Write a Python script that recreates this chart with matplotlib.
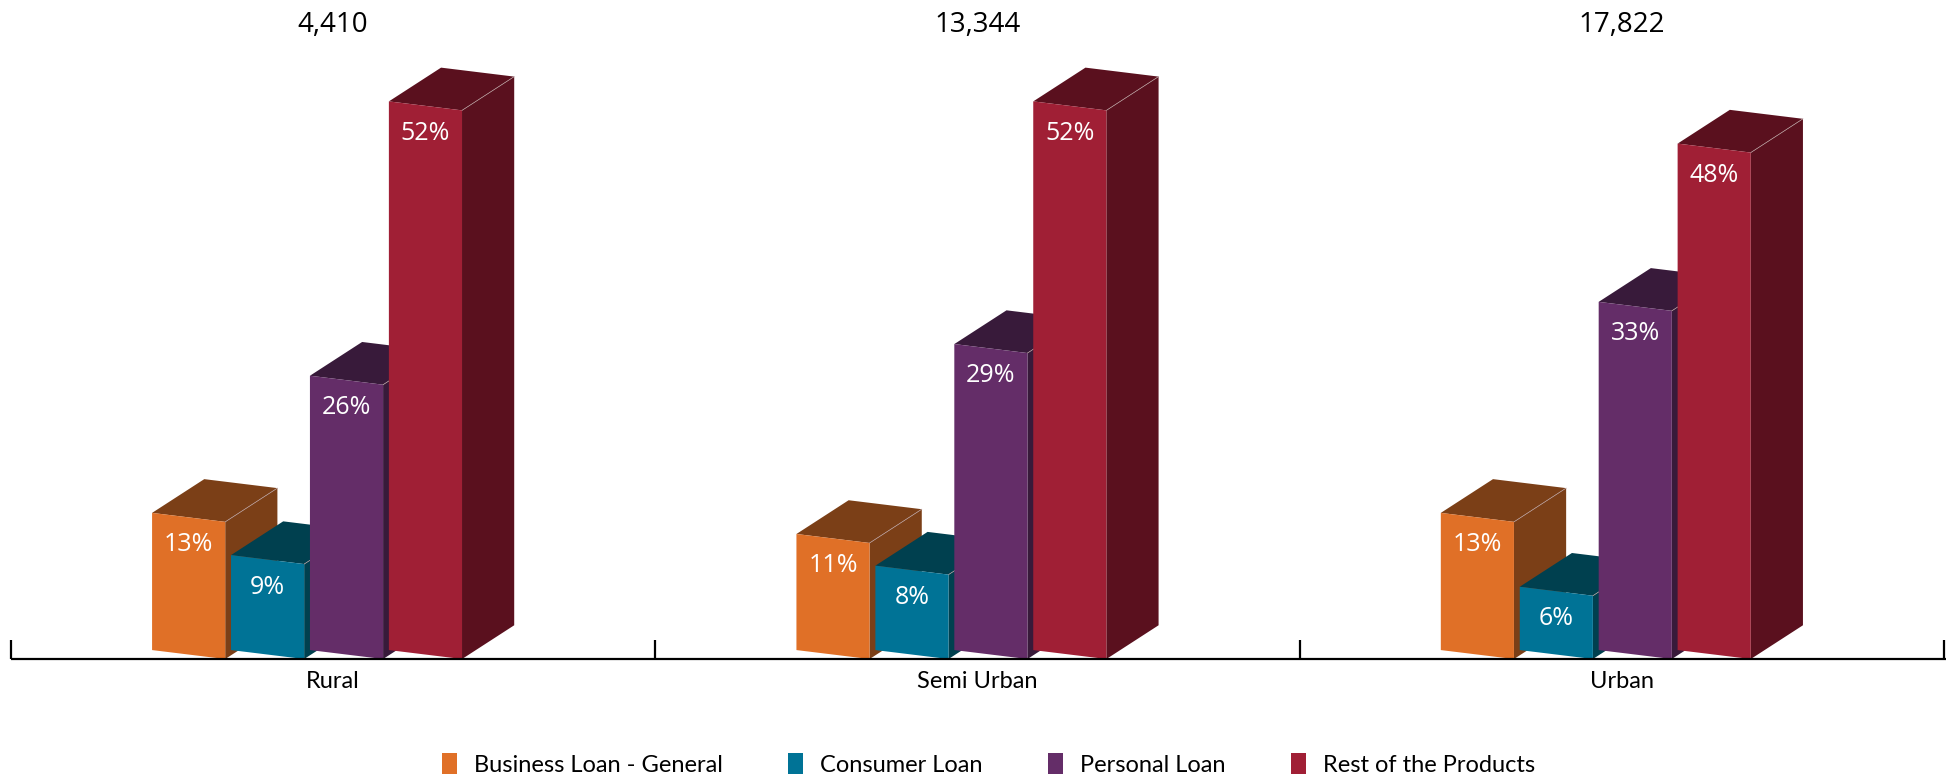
import matplotlib
matplotlib.use("Agg")
from matplotlib import pyplot as plt
from matplotlib.patches import Polygon, Patch

groups = ["Rural", "Semi Urban", "Urban"]
totals = ["4,410", "13,344", "17,822"]
products = ["Business Loan - General", "Consumer Loan", "Personal Loan", "Rest of the Products"]
business = [13, 11, 13]
consumer = [9, 8, 6]
personal = [26, 29, 33]
rest = [52, 52, 48]

front_colors = ["#E07027", "#007396", "#642D68", "#A01F35"]
dark_colors = ["#7B3F17", "#00404F", "#381A3A", "#5A101E"]

# fake 3d geometry (x in group units, y in percent)
bar_w = 0.1135
step = 0.1225
first = -0.281
dx = 0.081
dy = 3.2
skew = 0.85

narrow = ["Lato", "DejaVu Sans"]
label_font = ["Open Sans", "DejaVu Sans"]

fig = plt.figure(figsize=(19.46, 7.77), dpi=100)
ax = fig.add_axes([0, 0, 1, 1])
ax.axis("off")
ax.set_xlim(-0.517, 2.503)
ax.set_ylim(-11.18, 62.46)

series = [business, consumer, personal, rest]
for g in range(len(groups)):
    for k, vals in enumerate(series):
        v = vals[g]
        z = 2 + k
        x0 = g + first + k * step
        x1 = x0 + bar_w
        front = [(x0, skew), (x1, 0), (x1, v), (x0, v + skew)]
        side = [(x1, 0), (x1 + dx, dy), (x1 + dx, v + dy), (x1, v)]
        top = [(x0, v + skew), (x1, v), (x1 + dx, v + dy), (x0 + dx, v + skew + dy)]
        ax.add_patch(Polygon(side, closed=True, fc=dark_colors[k], ec="none", zorder=z))
        ax.add_patch(Polygon(top, closed=True, fc=dark_colors[k], ec="none", zorder=z))
        ax.plot([x1, x1 + dx], [v, v + dy], color="#b9a0a0", lw=0.5, zorder=z)
        ax.add_patch(Polygon(front, closed=True, fc=front_colors[k], ec="none", zorder=z))
        ax.text((x0 + x1) / 2, v + skew / 2 - 2.6, f"{v}%", color="white",
                ha="center", va="center", fontsize=18, family=label_font, zorder=z)
    ax.text(g, 60.1, totals[g], ha="center", va="center", fontsize=20, family=label_font)
    ax.text(g, -2.1, groups[g], ha="center", va="center", fontsize=17, family=narrow)

# axis line with group separators
ax.plot([-0.5, 2.503], [0, 0], color="black", lw=1.6, solid_capstyle="butt", zorder=10)
for t in [-0.5, 0.5, 1.5, 2.5]:
    ax.plot([t, t], [0, 1.8], color="black", lw=1.6, solid_capstyle="butt", zorder=10)

handles = [Patch(fc=c, ec="none") for c in front_colors]
fig.legend(handles, products, loc="center", bbox_to_anchor=(0.508, 0.016), ncol=4,
           frameon=False, handlelength=0.64, handleheight=0.95, handletextpad=0.73,
           columnspacing=2.75, prop={"family": narrow, "size": 17})

fig.savefig("out.png", dpi=100)
